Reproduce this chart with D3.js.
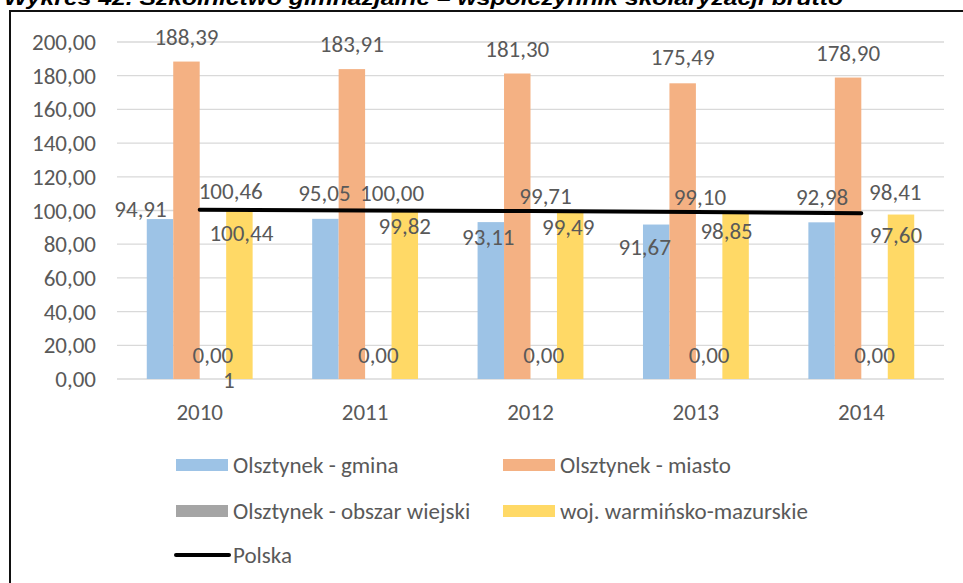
<!DOCTYPE html>
<html>
<head>
<meta charset="utf-8">
<script src="https://cdn.jsdelivr.net/npm/d3@7"></script>
<style>
  body { margin: 0; background: #fff; }
  text { font-family: Carlito, Calibri, Lato, sans-serif; fill: #595959; }
</style>
</head>
<body>
<div class="canvas"></div>
<script>
// data
const years = ['2010', '2011', '2012', '2013', '2014'];
const gmina = [94.91, 95.05, 93.11, 91.67, 92.98];
const miasto = [188.39, 183.91, 181.30, 175.49, 178.90];
const obszar = [0.001, 0, 0, 0, 0];
const wojewodztwo = [100.44, 99.82, 99.49, 98.85, 97.60];
const polska = [100.46, 100.00, 99.71, 99.10, 98.41];
const yTicks = [0, 20, 40, 60, 80, 100, 120, 140, 160, 180, 200];

const seriesNames = ['Olsztynek - gmina', 'Olsztynek - miasto', 'Olsztynek - obszar wiejski', 'woj. warmińsko-mazurskie'];
const seriesValues = [gmina, miasto, obszar, wojewodztwo];
const colors = ['#9DC3E6', '#F4B183', '#A5A5A5', '#FFD966'];

// hand-moved label offsets (dx, dy from bar top / line point)
const labelOffsets = [
  [[-19.5, -10], [-1, -26], [-2.5, 15], [-11.5, 22.5], [0.5, -25]],
  [[0, -25], [0, -25], [0, -25], [0, -26], [0, -25]],
  [[0, -24], [0, -24], [0, -24], [0, -24], [0, -24]],
  [[2, 23], [0, 15], [-2, 16], [-9, 19], [-5, 20]]
];
const lineOffsets = [[31, -19], [27, -17.5], [15, -15], [4, -15], [34, -21]];

// dims
const dims = { width: 963, height: 583 };
const plot = { left: 117, right: 944, top: 42, bottom: 379 };
const fontSize = '23px';

const fmt = v => d3.format('.2f')(v).replace('.', ',');

const svg = d3.select('.canvas')
  .append('svg')
  .attr('width', dims.width)
  .attr('height', dims.height);

// title (cut off at top of picture, like the source)
svg.append('text')
  .attr('x', 4)
  .attr('y', 5)
  .attr('textLength', 839)
  .attr('lengthAdjust', 'spacingAndGlyphs')
  .style('font-family', 'Liberation Sans, Arial, sans-serif')
  .style('font-weight', 'bold')
  .style('font-style', 'italic')
  .style('font-size', '20px')
  .style('fill', '#000')
  .text('Wykres 42. Szkolnictwo gimnazjalne – współczynnik skolaryzacji brutto');

// frame
svg.append('rect')
  .attr('x', 10)
  .attr('y', 11)
  .attr('width', 1000)
  .attr('height', 1000)
  .attr('fill', 'none')
  .attr('stroke', '#111')
  .attr('stroke-width', 2);

// scales
const x0 = d3.scaleBand()
  .domain(years)
  .range([plot.left, plot.right])
  .paddingInner(0.36)
  .paddingOuter(0.18);

const x1 = d3.scaleBand()
  .domain(d3.range(seriesNames.length))
  .range([0, x0.bandwidth()]);

const y = d3.scaleLinear()
  .domain([0, 200])
  .range([plot.bottom, plot.top]);

const center = d => x0(d) + x0.bandwidth() / 2;

// gridlines
svg.append('g')
  .selectAll('line')
  .data(yTicks)
  .enter()
  .append('line')
  .attr('x1', plot.left)
  .attr('x2', plot.right)
  .attr('y1', d => y(d))
  .attr('y2', d => y(d))
  .attr('stroke', '#D9D9D9')
  .attr('stroke-width', 1.3);

// y axis labels
svg.append('g')
  .selectAll('text')
  .data(yTicks)
  .enter()
  .append('text')
  .attr('x', 96)
  .attr('y', d => y(d))
  .attr('text-anchor', 'end')
  .attr('dominant-baseline', 'central')
  .style('font-size', fontSize)
  .text(d => fmt(d));

// x axis labels
svg.append('g')
  .selectAll('text')
  .data(years)
  .enter()
  .append('text')
  .attr('x', d => center(d))
  .attr('y', 412)
  .attr('text-anchor', 'middle')
  .attr('dominant-baseline', 'central')
  .style('font-size', fontSize)
  .text(d => d);

// bars
seriesValues.forEach((vals, s) => {
  svg.append('g')
    .selectAll('rect')
    .data(vals)
    .enter()
    .append('rect')
    .attr('x', (d, i) => x0(years[i]) + x1(s))
    .attr('width', x1.bandwidth())
    .attr('y', d => y(d))
    .attr('height', d => y(0) - y(d))
    .attr('fill', colors[s]);
});

// Polska line
const line = d3.line()
  .x((d, i) => center(years[i]))
  .y(d => y(d));

svg.append('path')
  .datum(polska)
  .attr('d', line)
  .attr('fill', 'none')
  .attr('stroke', '#000')
  .attr('stroke-width', 4)
  .attr('stroke-linecap', 'round');

// bar labels
seriesValues.forEach((vals, s) => {
  const g = svg.append('g');
  vals.forEach((v, i) => {
    const cx = x0(years[i]) + x1(s) + x1.bandwidth() / 2 + labelOffsets[s][i][0];
    const cy = y(v) + labelOffsets[s][i][1];
    const t = g.append('text')
      .attr('x', cx)
      .attr('y', cy)
      .attr('text-anchor', 'middle')
      .attr('dominant-baseline', 'central')
      .style('font-size', fontSize);
    // a value with a third decimal wraps its last digit onto a second line
    const label = d3.format('.3~f')(v).replace('.', ',');
    if (label.includes(',') && label.split(',')[1].length > 2) {
      t.text(label.slice(0, -1));
      g.append('text')
        .attr('x', cx + 16)
        .attr('y', cy + 25)
        .attr('text-anchor', 'middle')
        .attr('dominant-baseline', 'central')
        .style('font-size', fontSize)
        .text(label.slice(-1));
    } else {
      t.text(fmt(v));
    }
  });
});

// line labels
svg.append('g')
  .selectAll('text')
  .data(polska)
  .enter()
  .append('text')
  .attr('x', (d, i) => center(years[i]) + lineOffsets[i][0])
  .attr('y', (d, i) => y(d) + lineOffsets[i][1])
  .attr('text-anchor', 'middle')
  .attr('dominant-baseline', 'central')
  .style('font-size', fontSize)
  .text(d => fmt(d));

// legend
const legendItems = [
  { name: seriesNames[0], color: colors[0], x: 176, y: 465 },
  { name: seriesNames[1], color: colors[1], x: 503, y: 465 },
  { name: seriesNames[2], color: colors[2], x: 176, y: 511 },
  { name: seriesNames[3], color: colors[3], x: 503, y: 511 },
  { name: 'Polska', color: '#000', x: 176, y: 555, line: true }
];

const legend = svg.append('g')
  .selectAll('g')
  .data(legendItems)
  .enter()
  .append('g')
  .attr('transform', d => `translate(${d.x},${d.y})`);

legend.filter(d => !d.line)
  .append('rect')
  .attr('x', 0)
  .attr('y', -6)
  .attr('width', 52)
  .attr('height', 12)
  .attr('fill', d => d.color);

legend.filter(d => d.line)
  .append('line')
  .attr('x1', 0)
  .attr('x2', 53)
  .attr('stroke', '#000')
  .attr('stroke-width', 4)
  .attr('stroke-linecap', 'round');

legend.append('text')
  .attr('x', 57)
  .attr('dominant-baseline', 'central')
  .style('font-size', fontSize)
  .text(d => d.name);
</script>
</body>
</html>
